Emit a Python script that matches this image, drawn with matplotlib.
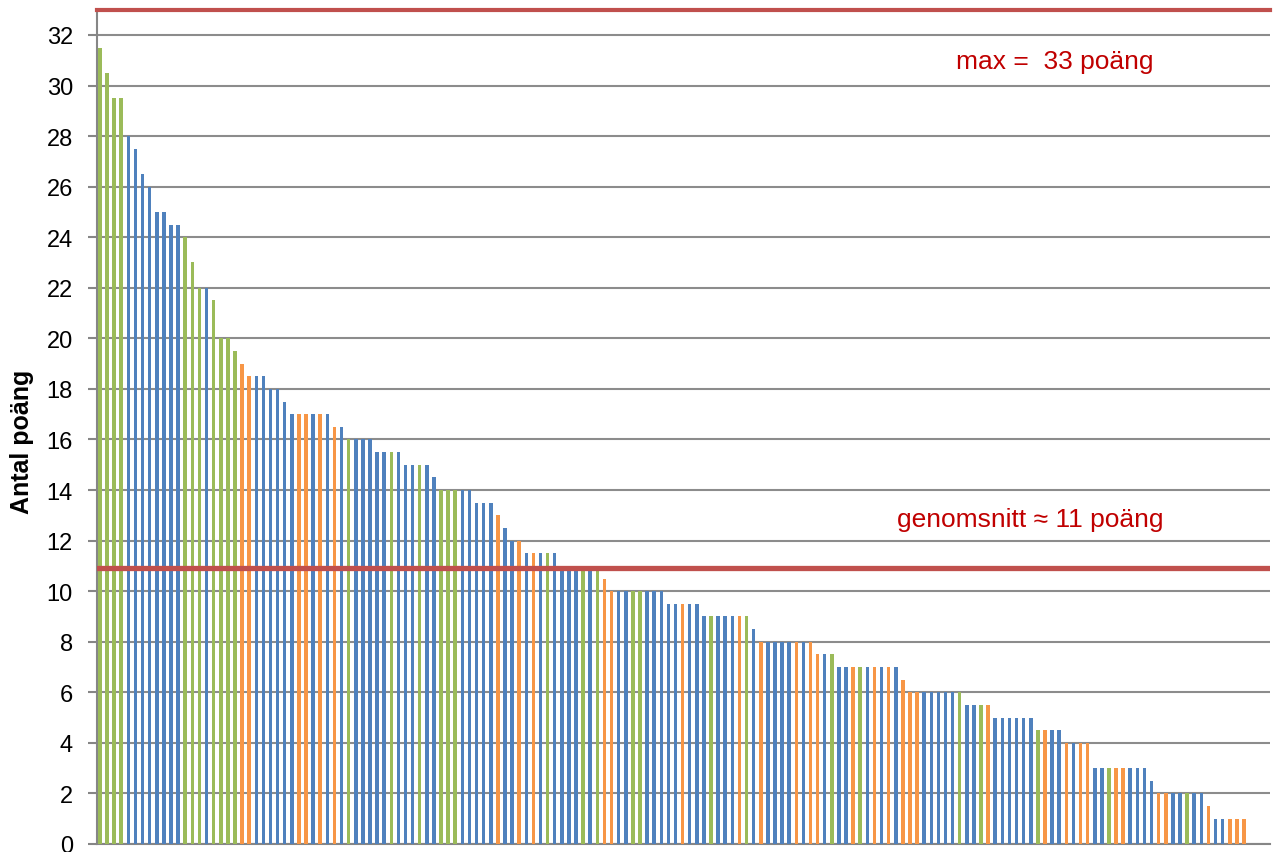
import matplotlib

matplotlib.use("Agg")
import matplotlib.pyplot as plt
import numpy as np

plt.rcParams["font.family"] = ["Liberation Sans", "DejaVu Sans"]

# points per student, sorted, with the group each one belongs to
scores = [
    31.5, 30.5, 29.5, 29.5, 28, 27.5, 26.5, 26, 25, 25,
    24.5, 24.5, 24, 23, 22, 22, 21.5, 20, 20, 19.5,
    19, 18.5, 18.5, 18.5, 18, 18, 17.5, 17, 17, 17,
    17, 17, 17, 16.5, 16.5, 16, 16, 16, 16, 15.5,
    15.5, 15.5, 15.5, 15, 15, 15, 15, 14.5, 14, 14,
    14, 14, 14, 13.5, 13.5, 13.5, 13, 12.5, 12, 12,
    11.5, 11.5, 11.5, 11.5, 11.5, 11, 11, 11, 11, 11,
    11, 10.5, 10, 10, 10, 10, 10, 10, 10, 10,
    9.5, 9.5, 9.5, 9.5, 9.5, 9, 9, 9, 9, 9,
    9, 9, 8.5, 8, 8, 8, 8, 8, 8, 8,
    8, 7.5, 7.5, 7.5, 7, 7, 7, 7, 7, 7,
    7, 7, 7, 6.5, 6, 6, 6, 6, 6, 6,
    6, 6, 5.5, 5.5, 5.5, 5.5, 5, 5, 5, 5,
    5, 5, 4.5, 4.5, 4.5, 4.5, 4, 4, 4, 4,
    3, 3, 3, 3, 3, 3, 3, 3, 2.5, 2,
    2, 2, 2, 2, 2, 2, 1.5, 1, 1, 1,
    1, 1,
]
groups = [
    "ggggbbbbbb",
    "bbgggbgggg",
    "oobbbbbboo",
    "bobobgbbbb",
    "bgbbbgbbgg",
    "gbbbbbobbo",
    "bobgbbbbgb",
    "goobbggbbb",
    "bbobbbgbbb",
    "ogbobbbbob",
    "oobgbbogbo",
    "bobooobbbb",
    "bgbbgobbbb",
    "bbgobbobooo"[:10],
    "bbgoobbbbo",
    "obbgbbobbo",
    "oo",
]
max_score = 33
mean_score = 10.9
yticks = list(range(0, 33, 2))

palette = {"b": "#4F81BD", "g": "#9BBB59", "o": "#F79646"}
colors = [palette[c] for c in "".join(groups)]

fig = plt.figure(figsize=(12.78, 8.53), dpi=100)
ax = fig.add_axes([0.0761, 0.0094, 0.9176, 0.9781])

x = np.arange(len(scores))
ax.bar(x, scores, width=0.5, color=colors, zorder=3)

ax.axhline(max_score, color="#C0504D", lw=3, zorder=4, clip_on=False)
ax.axhline(mean_score, color="#C0504D", lw=3.8, zorder=4)

ax.text(134.4, 30.95, "max =  33 poäng", color="#C00000", fontsize=19, ha="center", va="center")
ax.text(130.9, 12.85, "genomsnitt \u2248 11 poäng", color="#C00000", fontsize=19, ha="center", va="center")

ax.set_xlim(-0.38, 164.66)
ax.set_ylim(0, 33)
ax.set_yticks(yticks)
ax.set_yticklabels([str(t) for t in yticks], fontsize=17)
ax.set_xticks([])
ax.tick_params(axis="y", length=6.5, width=1.5, color="#868686", pad=11)
ax.grid(True, axis="y", color="#8C8C8C", lw=1.5, zorder=1)

for side in ("top", "right"):
    ax.spines[side].set_visible(False)
for side in ("left", "bottom"):
    ax.spines[side].set_color("#868686")
    ax.spines[side].set_linewidth(1.5)

ax.set_ylabel("Antal poäng", fontsize=18, fontweight="bold")
ax.yaxis.set_label_coords(-0.054, 0.483)

fig.savefig("out.png", dpi=100)
